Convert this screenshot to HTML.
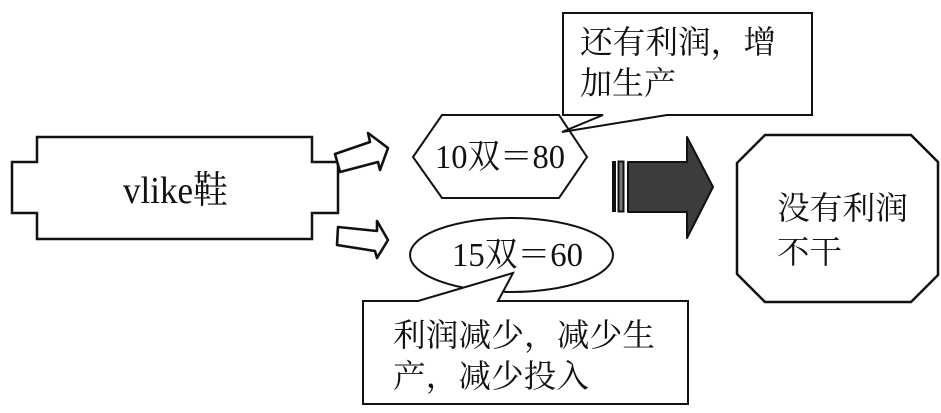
<!DOCTYPE html>
<html>
<head>
<meta charset="utf-8">
<style>
  html, body { margin: 0; padding: 0; background: #fff; }
  svg { display: block; }
  text { fill: #111; }
  .cjk { font-family: "Liberation Serif", "Noto Serif CJK SC", "Noto Sans CJK SC", serif; font-size: 32px; }
</style>
</head>
<body>
<svg width="941" height="413" viewBox="0 0 941 413" xmlns="http://www.w3.org/2000/svg">
  <!-- vlike plaque -->
  <path d="M37,137 L312,137 L312,162 L338,162 L338,213 L312,213 L312,239 L37,239 L37,213 L12,213 L12,162 L37,162 Z"
        fill="#fff" stroke="#111" stroke-width="2.5" stroke-linejoin="miter"/>
  <text class="cjk" x="123" y="203" style="font-size:38px" textLength="105" lengthAdjust="spacingAndGlyphs">vlike鞋</text>

  <!-- hollow arrows -->
  <path d="M335,154 L370,142 L368,133 L388,148 L380,170 L378,162 L340,172 Z"
        fill="#fff" stroke="#111" stroke-width="2.6" stroke-linejoin="round"/>
  <path d="M338,227 L377,231 L377,221 L388,240 L377,258 L375,251 L337,245 Z"
        fill="#fff" stroke="#111" stroke-width="2.6" stroke-linejoin="round"/>

  <!-- hexagon -->
  <polygon points="413,157 442,115 559,115 587,157 559,198 442,198"
           fill="#fff" stroke="#111" stroke-width="2"/>
  <text class="cjk" x="435" y="168" style="font-size:34px" textLength="130" lengthAdjust="spacingAndGlyphs">10双＝80</text>

  <!-- upper callout -->
  <path d="M563,13 L812,13 L812,115 L667,115 L562,132 L603,115 L563,115 Z"
        fill="#fff" stroke="#111" stroke-width="2" stroke-linejoin="miter"/>
  <text class="cjk" x="580" y="42" dominant-baseline="central" textLength="196" lengthAdjust="spacingAndGlyphs">还有利润，增</text>
  <text class="cjk" x="580" y="83" dominant-baseline="central" textLength="96" lengthAdjust="spacingAndGlyphs">加生产</text>

  <!-- ellipse -->
  <ellipse cx="511.5" cy="255" rx="101.5" ry="37" fill="#fff" stroke="#111" stroke-width="2"/>
  <text class="cjk" x="452" y="266" style="font-size:34px" textLength="131" lengthAdjust="spacingAndGlyphs">15双＝60</text>

  <!-- lower callout -->
  <path d="M363,301 L418,301 L513,273 L498,301 L688,301 L688,404 L363,404 Z"
        fill="#fff" stroke="#111" stroke-width="2" stroke-linejoin="miter"/>
  <text class="cjk" x="393" y="335" dominant-baseline="central" textLength="262" lengthAdjust="spacingAndGlyphs">利润减少，减少生</text>
  <text class="cjk" x="393" y="376" dominant-baseline="central" textLength="196" lengthAdjust="spacingAndGlyphs">产，减少投入</text>

  <!-- dark arrow -->
  <rect x="612" y="161" width="4" height="51" fill="#111"/>
  <rect x="618.5" y="161.5" width="5" height="50" fill="#777" stroke="#111" stroke-width="2"/>
  <path d="M628,162 L687,162 L687,137 L713,187 L687,238 L687,212 L628,212 Z"
        fill="#3c3c3c" stroke="#111" stroke-width="2" stroke-linejoin="round"/>

  <!-- octagon -->
  <polygon points="765,135 911,135 938,162 938,275 911,302 765,302 737,274 737,163"
           fill="#fff" stroke="#111" stroke-width="2.5"/>
  <text class="cjk" x="777" y="208" dominant-baseline="central" textLength="131" lengthAdjust="spacingAndGlyphs">没有利润</text>
  <text class="cjk" x="777" y="252" dominant-baseline="central" textLength="65" lengthAdjust="spacingAndGlyphs">不干</text>
</svg>
</body>
</html>
